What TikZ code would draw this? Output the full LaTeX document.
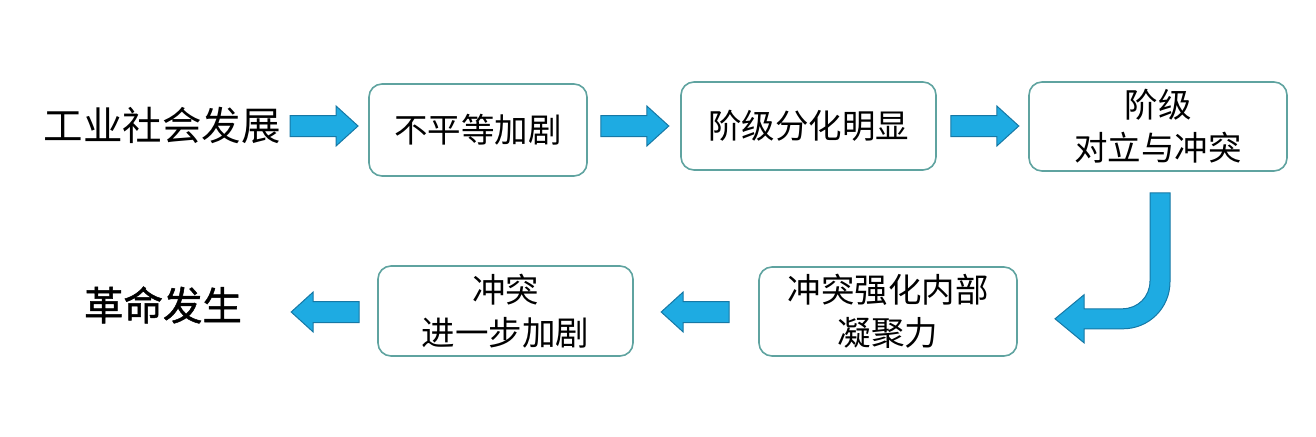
\documentclass[tikz,border=0pt]{standalone}
\usepackage{fontspec}
\setmainfont{Noto Sans CJK SC}
\newfontfamily\heavycjk{Noto Sans CJK SC}[FakeBold=1.2]
\usepackage{xcolor}
\usetikzlibrary{calc}
\definecolor{boxline}{RGB}{95,163,160}
\definecolor{arrowfill}{RGB}{30,171,226}
\definecolor{arrowline}{RGB}{22,120,165}
\tikzset{
	stepbox/.style = {shape=rectangle, rounded corners=13pt,
		draw=boxline, line width=1.6pt, align=center,
		minimum width=256pt, minimum height=89pt,
		font=\fontsize{33.5}{43}\selectfont},
	headline/.style = {font=\fontsize{39.5}{44}\selectfont},
	blockarrow/.style = {fill=arrowfill, draw=arrowline, line width=1pt, line join=miter},
	rarrow/.pic = {\path[blockarrow] (0,-10.5) -- (46,-10.5) -- (46,-20) -- (68,0)
		-- (46,20) -- (46,10.5) -- (0,10.5) -- cycle;}
}
\begin{document}
\begin{tikzpicture}[x=1pt,y=-1pt]
\useasboundingbox (0,0) rectangle (1316,436);
% upper row
\node [headline] (start) at (162,125) {工业社会发展};
\node [stepbox, minimum width=218pt, minimum height=92pt] (unequal) at (478,130) {不平等加剧};
\node [stepbox, minimum width=255pt, minimum height=88pt] (classes) at (808.5,126) {阶级分化明显};
\node [stepbox, minimum width=258pt] (conflict) at (1158,126.5) {阶级\\对立与冲突};
% lower row
\node [stepbox, minimum width=258pt] (cohesion) at (888,311.5) {冲突强化内部\\凝聚力};
\node [stepbox, minimum width=255pt, minimum height=90pt] (worse) at (505.5,311) {冲突\\进一步加剧};
\node [headline, font=\fontsize{39.5}{44}\selectfont\heavycjk] (revolt) at (163,305) {革命发生};
% arrows
\pic at ($(start.east)+(6,1)$) {rarrow};
\pic at ($(unequal.east)+(13,-4)$) {rarrow};
\pic at ($(classes.east)+(14,0)$) {rarrow};
\pic [rotate=180] at ($(cohesion.west)+(-29,0.5)$) {rarrow};
\pic [rotate=180] at ($(worse.west)+(-18,1)$) {rarrow};
\begin{scope}[shift={(conflict.south)}]
\path[blockarrow] (12,21) -- (12,110) .. controls (12,136) and (-9,157) .. (-35,157)
	-- (-74,157) -- (-74,171) -- (-103,147) -- (-74,123) -- (-74,137) -- (-36,137)
	.. controls (-20,137) and (-8,125) .. (-8,109) -- (-8,21) -- cycle;
\end{scope}
\end{tikzpicture}
\end{document}
